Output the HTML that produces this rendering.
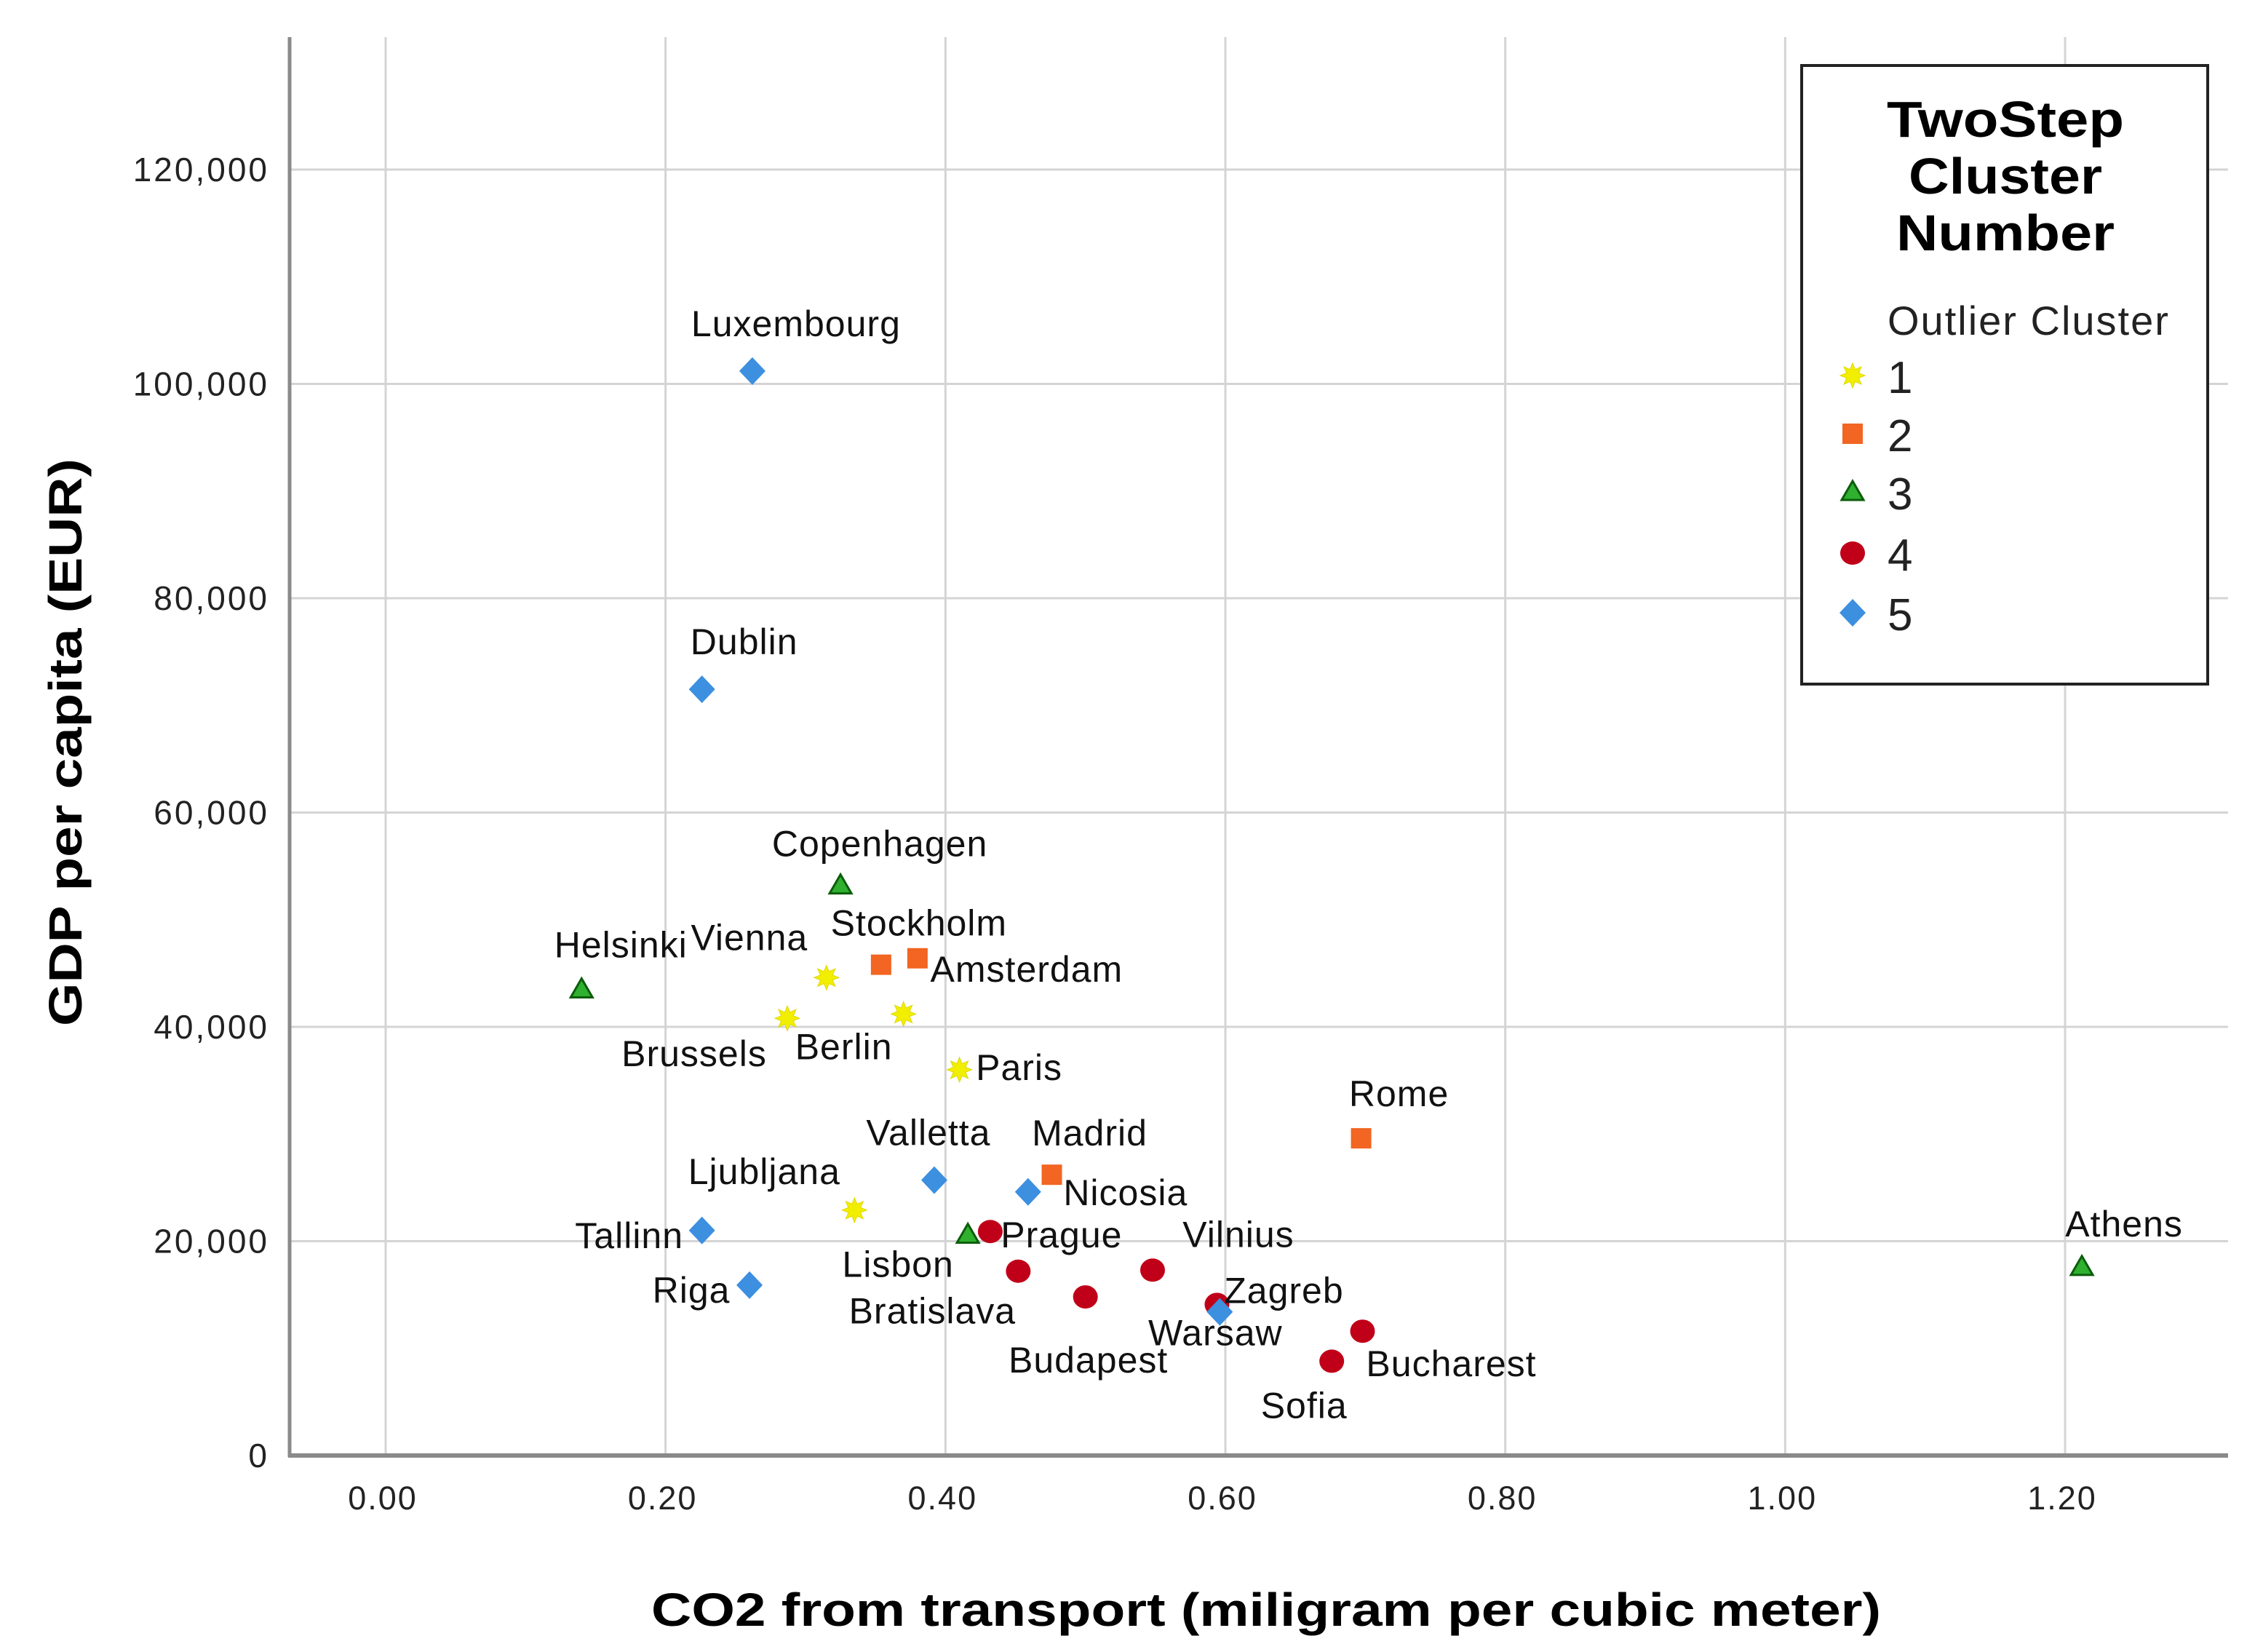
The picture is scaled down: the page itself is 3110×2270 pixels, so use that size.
<!DOCTYPE html>
<html><head><meta charset="utf-8"><style>
html,body{margin:0;padding:0;background:#fff;}
svg{display:block;font-family:"Liberation Sans",sans-serif;}
</style></head><body>
<svg id="chart" width="3110" height="2270" viewBox="0 0 3110 2270" xmlns="http://www.w3.org/2000/svg">
<g id="grid"></g>
<g id="axes"></g>
<g id="points"></g>
<g id="labels"></g>
<text x="1740" y="2234" text-anchor="middle" font-size="64" font-weight="bold" textLength="1690" lengthAdjust="spacingAndGlyphs">CO2 from transport (miligram per cubic meter)</text>
<text transform="translate(112,1020) rotate(-90)" text-anchor="middle" font-size="64" font-weight="bold" textLength="780" lengthAdjust="spacingAndGlyphs">GDP per capita (EUR)</text>
<g>
<rect x="2476" y="90" width="558" height="850" fill="#fff" stroke="#222" stroke-width="4"/>
<text x="2756" y="188" text-anchor="middle" font-size="70" font-weight="bold" textLength="326" lengthAdjust="spacingAndGlyphs">TwoStep</text>
<text x="2756" y="266" text-anchor="middle" font-size="70" font-weight="bold" textLength="266" lengthAdjust="spacingAndGlyphs">Cluster</text>
<text x="2756" y="344" text-anchor="middle" font-size="70" font-weight="bold" textLength="300" lengthAdjust="spacingAndGlyphs">Number</text>
<text x="2594" y="460" font-size="56" fill="#222" letter-spacing="2">Outlier Cluster</text>
<g id="legendItems"></g>
</g>
</svg>
<script>
const names = ["Luxembourg","Dublin","Copenhagen","Helsinki","Vienna","Stockholm","Amsterdam","Brussels","Berlin","Paris","Rome","Madrid","Valletta","Nicosia","Ljubljana","Tallinn","Riga","Athens","Lisbon","Prague","Bratislava","Budapest","Vilnius","Zagreb","Warsaw","Bucharest","Sofia"];
const co2 = [0.262,0.226,0.325,0.140,0.315,0.354,0.380,0.287,0.370,0.410,0.697,0.476,0.392,0.459,0.335,0.226,0.260,1.212,0.416,0.432,0.452,0.500,0.548,0.594,0.596,0.698,0.676];
const gdp = [101200,71500,53200,43500,44600,45800,46400,40800,41200,36000,29600,26200,25700,24600,22900,21000,15900,17600,20600,20900,17200,14800,17300,14100,13400,11600,8800];
const cluster = [5,5,3,3,1,2,2,1,1,1,2,2,5,5,1,5,5,3,3,4,4,4,4,4,5,4,4];
const xTicks = ["0.00","0.20","0.40","0.60","0.80","1.00","1.20"];
const yTicks = ["0","20,000","40,000","60,000","80,000","100,000","120,000"];
const legendKeys = [1,2,3,4,5];
// label offsets (style)
const lblDx=[60,58,54,54,-106,52,150,-128,-82,82,52,52,-8,134,-124,-100,-80,58,-96,98,-118,4,118,92,-6,122,-38];
const lblDy=[-60,-60,-52,-56,-50,-52,20,54,50,2,-56,-52,-60,6,-48,12,12,-54,46,10,60,92,-44,-14,34,50,66];

const NS="http://www.w3.org/2000/svg";
const X0=530, XS=(2838-530)/1.2, Y0=2000, YS=294.5/20000;
const sx=v=>X0+v*XS, sy=v=>Y0-v*YS;
function mk(tag,attrs,parent){const e=document.createElementNS(NS,tag);for(const k in attrs)e.setAttribute(k,attrs[k]);parent.appendChild(e);return e;}
const grid=document.getElementById('grid'),axes=document.getElementById('axes');
xTicks.forEach((t,i)=>{const v=parseFloat(t);const x=sx(v);
 const l=mk('line',{x1:x,y1:51,x2:x,y2:Y0,stroke:'#d4d4d4','stroke-width':3},grid);
 
 
 const tx=mk('text',{x:x-4,y:2074,'text-anchor':'middle','font-size':45,'letter-spacing':2,fill:'#222'},axes);
 tx.textContent=t;
 
 
});
yTicks.forEach((t,i)=>{const v=parseFloat(t.replace(/,/g,''));const y=sy(v);
 if(v>0){const l=mk('line',{x1:398,y1:y,x2:3062,y2:y,stroke:'#d4d4d4','stroke-width':3},grid);
 
 }
 const tx=mk('text',{x:370,y:y+16,'text-anchor':'end','font-size':46,'letter-spacing':3,fill:'#222'},axes);
 tx.textContent=t;
 
 
});
const ax=mk('line',{x1:398,y1:51,x2:398,y2:Y0+2,stroke:'#8a8a8a','stroke-width':5},axes);


const ax2=mk('line',{x1:396,y1:Y0,x2:3062,y2:Y0,stroke:'#8a8a8a','stroke-width':6},axes);



const colors={1:'#f2ee00',2:'#f26522',3:'#2fb02f',4:'#c00018',5:'#3d8fe0'};
function marker(c,x,y,parent,s){s=s||1;let e;
 if(c===1){let pts=[];for(let k=0;k<16;k++){const r=(k%2?9:17)*s,a=k*Math.PI/8;pts.push((x+r*Math.cos(a)).toFixed(1)+','+(y+r*Math.sin(a)).toFixed(1));}
  e=mk('polygon',{points:pts.join(' '),fill:colors[1],stroke:'#e0d800','stroke-width':1},parent);}
 else if(c===2){e=mk('rect',{x:x-14*s,y:y-14*s,width:28*s,height:28*s,fill:colors[2]},parent);}
 else if(c===3){e=mk('polygon',{points:`${x},${y-15*s} ${x+15*s},${y+11*s} ${x-15*s},${y+11*s}`,fill:colors[3],stroke:'#0b5d0b','stroke-width':3},parent);}
 else if(c===4){e=mk('ellipse',{cx:x,cy:y,rx:17*s,ry:16*s,fill:colors[4]},parent);}
 else {e=mk('polygon',{points:`${x},${y-19*s} ${x+18*s},${y} ${x},${y+19*s} ${x-18*s},${y}`,fill:colors[5]},parent);}
 return e;}
const pg=document.getElementById('points'),lg=document.getElementById('labels');
names.forEach((n,i)=>{const x=sx(co2[i]),y=sy(gdp[i]);
 const m=marker(cluster[i],x,y,pg);
 
 
 const t=mk('text',{x:x+lblDx[i],y:y+lblDy[i]+12,'text-anchor':'middle','font-size':50,'letter-spacing':1,fill:'#111'},lg);
 t.textContent=n;
 
 
});
const li=document.getElementById('legendItems');
const ly=[516,596,676,760,842];
legendKeys.forEach((k,i)=>{
 const m=marker(k,2546,ly[i],li,1);
 
 
 const t=mk('text',{x:2594,y:ly[i]+24,'font-size':62,fill:'#222'},li);
 t.textContent=String(k);
 
 
});
</script>
</body></html>
